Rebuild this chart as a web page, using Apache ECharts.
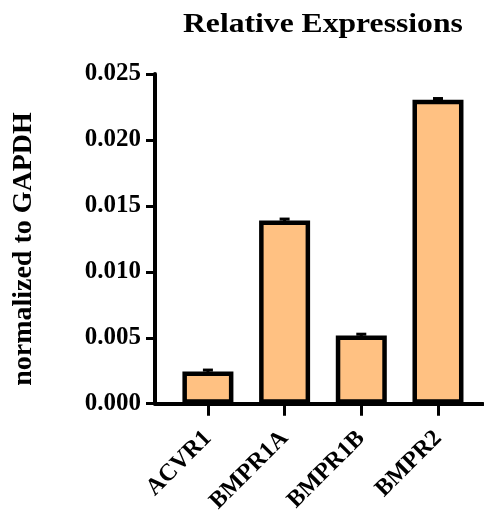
<!DOCTYPE html>
<html>
<head>
<meta charset="utf-8">
<script src="https://cdn.jsdelivr.net/npm/echarts@6/dist/echarts.min.js"></script>
<style>html,body{margin:0;padding:0;background:#fff;}#chart{width:484px;height:516px;}</style>
</head>
<body>
<div id="chart"></div>
<script>
const categories = ['ACVR1', 'BMPR1A', 'BMPR1B', 'BMPR2'];
const means = [0.00245, 0.01390, 0.00517, 0.02304];
const errors = [0.0001, 0.0001, 0.0001, 0.0001];
const titleText = 'Relative Expressions';
const yAxisTitle = 'normalized to GAPDH';

const FONT = '"Liberation Serif", "Times New Roman", serif';
const chart = echarts.init(document.getElementById('chart'), null, {renderer: 'canvas'});

const barData = means.map((v, i) => [i, v]);
const errData = means.map((v, i) => [i, v, v + errors[i]]);

chart.setOption({
  animation: false,
  backgroundColor: '#fff',
  graphic: [{
    type: 'text',
    x: 183, y: 11,
    scaleX: 1.13,
    style: {
      text: titleText,
      font: 'bold 28px ' + FONT,
      fill: '#000',
      textAlign: 'left', textVerticalAlign: 'top'
    }
  }, {
    type: 'text',
    x: 24, y: 249,
    rotation: Math.PI / 2,
    style: {
      text: yAxisTitle,
      font: 'bold 28px ' + FONT,
      fill: '#000',
      textAlign: 'center', textVerticalAlign: 'middle'
    }
  }],
  grid: {left: 155, right: 1, top: 74, bottom: 110},
  xAxis: {
    type: 'value',
    min: -0.69, max: 3.587,
    splitLine: {show: false},
    axisLine: {show: true, onZero: false, lineStyle: {color: '#000', width: 4}},
    axisTick: {show: true, customValues: [0, 1, 2, 3], length: 12, lineStyle: {color: '#000', width: 3}},
    axisLabel: {
      customValues: [0, 1, 2, 3],
      formatter: v => categories[Math.round(v)] || '',
      rotate: 45, margin: 31,
      fontFamily: FONT, fontWeight: 'bold', fontSize: 24, color: '#000'
    }
  },
  yAxis: {
    type: 'value',
    min: 0, max: 0.025, interval: 0.005,
    splitLine: {show: false},
    axisLine: {show: true, onZero: false, lineStyle: {color: '#000', width: 4}},
    axisTick: {show: true, length: 9, lineStyle: {color: '#000', width: 3}},
    axisLabel: {
      formatter: v => v.toFixed(3), margin: 14,
      fontFamily: FONT, fontWeight: 'bold', fontSize: 25, color: '#000'
    }
  },
  series: [
    {
      type: 'bar',
      data: barData,
      barWidth: 51,
      itemStyle: {color: '#FFC182', borderColor: '#000', borderWidth: 4.5}
    },
    {
      type: 'custom',
      data: errData,
      z: 5,
      renderItem: (params, api) => {
        const top = api.coord([api.value(0), api.value(2)]);
        const base = api.coord([api.value(0), api.value(1)]);
        return {
          type: 'group',
          children: [
            {type: 'line', shape: {x1: top[0], y1: top[1], x2: base[0], y2: base[1] + 3}, style: {stroke: '#000', lineWidth: 3}},
            {type: 'line', shape: {x1: top[0] - 5, y1: top[1], x2: top[0] + 5, y2: top[1]}, style: {stroke: '#000', lineWidth: 3}}
          ]
        };
      }
    }
  ]
});
</script>
</body>
</html>
